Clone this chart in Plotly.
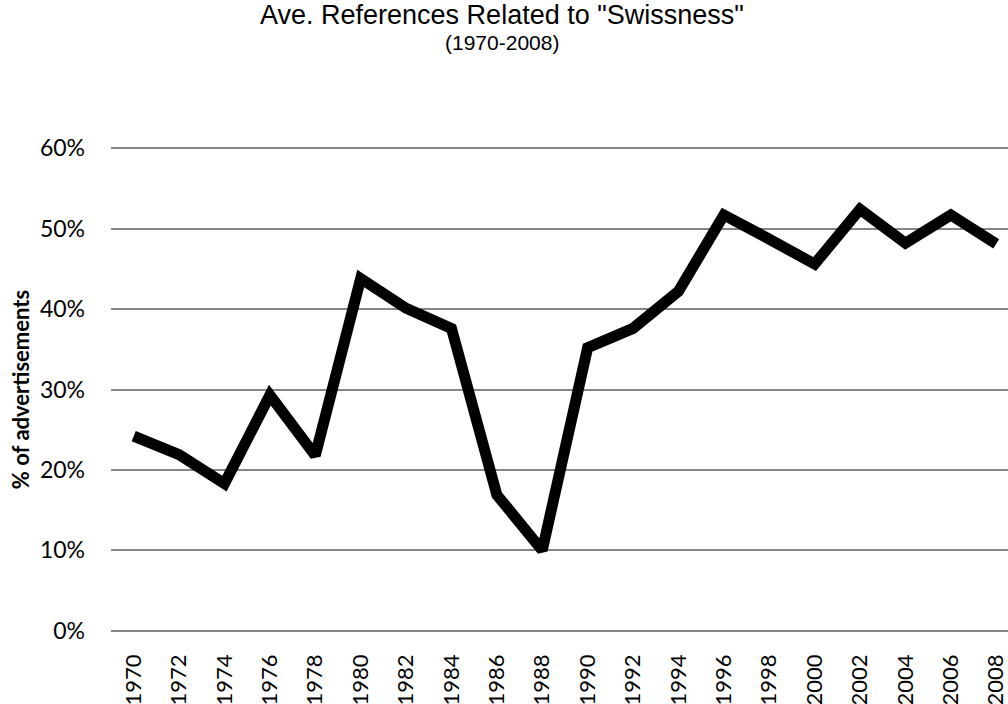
import plotly.graph_objects as go

# Share of advertisements referring to "Swissness", every second year
years = ["1970", "1972", "1974", "1976", "1978", "1980", "1982", "1984", "1986", "1988",
         "1990", "1992", "1994", "1996", "1998", "2000", "2002", "2004", "2006", "2008"]
share = [0.242, 0.219, 0.183, 0.293, 0.218, 0.438, 0.401, 0.376, 0.169, 0.100,
         0.352, 0.376, 0.422, 0.517, 0.487, 0.456, 0.524, 0.482, 0.517, 0.481]
y_ticks = [0, 0.1, 0.2, 0.3, 0.4, 0.5, 0.6]

title_font = dict(family="Liberation Sans, Arial, sans-serif", color="#000000")

fig = go.Figure()
fig.add_trace(go.Scatter(
    x=years, y=share, mode="lines",
    line=dict(color="#000000", width=11),
    hoverinfo="x+y",
))

fig.update_layout(
    width=1008, height=704,
    margin=dict(l=111, r=0, t=145, b=70),
    paper_bgcolor="white", plot_bgcolor="white",
    showlegend=False,
    xaxis=dict(
        type="category", range=[-0.5, 19.26],
        showgrid=False, zeroline=False, showline=False,
        ticks="", tickangle=-90,
        tickfont=dict(family="Lato, sans-serif", size=22, color="#000000"),
        ticklabelstandoff=15,
        fixedrange=True,
    ),
    yaxis=dict(
        range=[-0.004, 0.604], tickvals=y_ticks, tickformat=".0%",
        showgrid=True, gridcolor="#868686", gridwidth=1.5,
        zeroline=False, showline=False, ticks="",
        tickfont=dict(family="Lato, sans-serif", size=23, color="#000000"),
        ticklabelstandoff=25,
        title=dict(text="<b>% of advertisements</b>", standoff=4,
                   font=dict(family="Lato, sans-serif", size=22, color="#000000")),
        fixedrange=True,
    ),
    annotations=[
        dict(text='Ave. References Related to "Swissness"', xref="paper", yref="paper",
             x=(502 - 111) / 897, y=1 + (145 - 15) / 489, xanchor="center", yanchor="middle",
             showarrow=False, font=dict(size=27, **title_font)),
        dict(text="(1970-2008)", xref="paper", yref="paper",
             x=(502 - 111) / 897, y=1 + (145 - 42) / 489, xanchor="center", yanchor="middle",
             showarrow=False, font=dict(size=21, **title_font)),
    ],
)

fig.write_html("out.html")
